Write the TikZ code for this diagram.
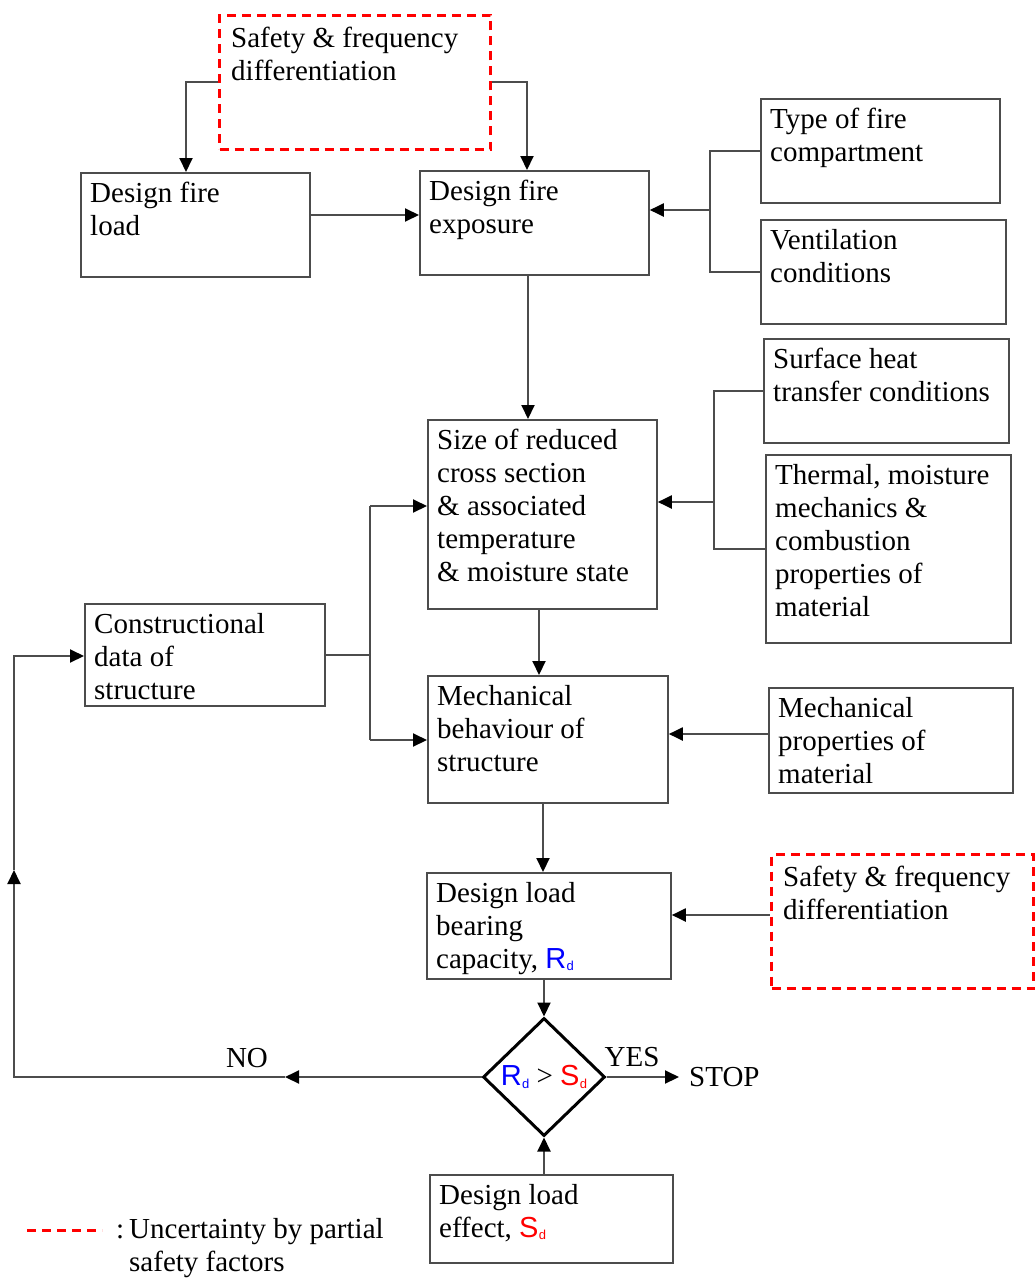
\documentclass[tikz,border=0pt]{standalone}
\usepackage{fontspec}
\setmainfont{Liberation Serif}
\newfontfamily\arialf{Liberation Sans}
\usetikzlibrary{arrows.meta,shapes.geometric,calc}
\definecolor{lnc}{gray}{0.3}
\newcommand{\myRd}{{\arialf\color{blue}R\kern0.3pt\raisebox{-2.5pt}{\fontsize{13}{13}\selectfont d}}}
\newcommand{\mySd}{{\arialf\color{red}S\kern0.3pt\raisebox{-2.5pt}{\fontsize{13}{13}\selectfont d}}}
\begin{document}
\begin{tikzpicture}[x=1pt,y=-1pt,
  box/.style={draw=lnc, line width=1.8pt, anchor=north west, inner sep=0pt},
  dbox/.style={draw=red, line width=3pt, dash pattern=on 9pt off 6pt, anchor=north west, inner sep=0pt},
  txt/.style={anchor=north west, inner xsep=10pt, inner ysep=7pt, align=left, font=\fontsize{29}{33}\selectfont},
  dtxt/.style={txt, inner xsep=13pt, inner ysep=10pt},
  lbl/.style={font=\fontsize{29}{33}\selectfont, inner sep=0pt},
  conn/.style={draw=lnc, line width=2pt},
  arr/.style={conn, -{Triangle[length=14pt,width=13pt,color=black]}},
]
\useasboundingbox (0,0) rectangle (1035,1279);

% boxes
\node[dbox, minimum width=271pt, minimum height=134pt] (sft) at (218,14) {};
\node[dtxt] (sftt) at (sft.north west) {\strut Safety \& frequency\\differentiation};
\node[box, minimum width=229pt, minimum height=104pt] (load) at (80,172) {};
\node[txt] (loadt) at (load.north west) {\strut Design fire\\load};
\node[box, minimum width=229pt, minimum height=104pt] (exp) at (419,170) {};
\node[txt] (expt) at (exp.north west) {\strut Design fire\\exposure};
\node[box, minimum width=239pt, minimum height=104pt] (type) at (760,98) {};
\node[txt] (typet) at (type.north west) {\strut Type of fire\\compartment};
\node[box, minimum width=245pt, minimum height=104pt] (vent) at (760,219) {};
\node[txt] (ventt) at (vent.north west) {\strut Ventilation\\conditions};
\node[box, minimum width=245pt, minimum height=104pt] (surf) at (763,338) {};
\node[txt] (surft) at (surf.north west) {\strut Surface heat\\transfer conditions};
\node[box, minimum width=245pt, minimum height=188pt] (therm) at (765,454) {};
\node[txt] (thermt) at (therm.north west) {\strut Thermal, moisture\\mechanics \&\\combustion\\properties of\\material};
\node[box, minimum width=229pt, minimum height=189pt] (size) at (427,419) {};
\node[txt] (sizet) at (size.north west) {\strut Size of reduced\\cross section\\\& associated\\temperature\\\& moisture state};
\node[box, minimum width=240pt, minimum height=102pt] (cons) at (84,603) {};
\node[txt] (const) at (cons.north west) {\strut Constructional\\data of\\structure};
\node[box, minimum width=240pt, minimum height=127pt] (mech) at (427,675) {};
\node[txt] (mecht) at (mech.north west) {\strut Mechanical\\behaviour of\\structure};
\node[box, minimum width=244pt, minimum height=105pt] (mprop) at (768,687) {};
\node[txt] (mpropt) at (mprop.north west) {\strut Mechanical\\properties of\\material};
\node[box, minimum width=244pt, minimum height=106pt] (bear) at (426,872) {};
\node[txt] (beart) at (bear.north west) {\strut Design load\\bearing\\capacity, \myRd};
\node[dbox, minimum width=262pt, minimum height=134pt] (sfb) at (770,853) {};
\node[dtxt] (sfbt) at (sfb.north west) {\strut Safety \& frequency\\differentiation};
\node[box, minimum width=243pt, minimum height=88pt] (effect) at (429,1174) {};
\node[txt] (effectt) at (effect.north west) {\strut Design load\\effect, \mySd};

% decision
\node[diamond, draw=black, line width=3pt, minimum width=122pt, minimum height=118pt, inner sep=0pt] (dec) at (544,1077) {};
\node[lbl] (dect) at (dec.center) {\myRd\ >\ \mySd};

% labels
\node[lbl, anchor=west, inner xsep=10pt] (stop) at (679,1077) {STOP};
\node[lbl] (yes) at (632,1057) {YES};
\node[lbl] (no) at (247,1058) {NO};

% connectors
\coordinate (xa) at (186,0);
\coordinate (xb) at (527,0);
\coordinate (ya) at (0,215);
\coordinate (bx1) at (710,210);
\coordinate (xc) at (528,0);
\coordinate (bx2) at (714,502);
\coordinate (xd) at (539,0);
\coordinate (bx3t) at (370,506);
\coordinate (bx3b) at (370,740);
\coordinate (ye) at (0,734);
\coordinate (xf) at (543,0);
\coordinate (yg) at (0,915);
\coordinate (noa) at (285,1077);
\coordinate (lc1) at (14,1077);
\coordinate (upa) at (14,870);
\coordinate (lc2) at (14,656);

\draw[arr] (sft.west) -| (load.north -| xa);
\draw[arr] (sft.east) -| (exp.north -| xb);
\draw[arr] (load.east |- ya) -- (exp.west |- ya);
\draw[conn] (type.west) -- (type.west -| bx1) -- (vent.west -| bx1) -- (vent.west);
\draw[arr] (bx1) -- (exp.east |- bx1);
\draw[arr] (exp.south -| xc) -- (size.north -| xc);
\draw[conn] (surf.west) -- (surf.west -| bx2) -- (therm.west -| bx2) -- (therm.west);
\draw[arr] (bx2) -- (size.east |- bx2);
\draw[arr] (size.south -| xd) -- (mech.north -| xd);
\draw[conn] (cons.east) -- (cons.east -| bx3t);
\draw[conn] (bx3t) -- (bx3b);
\draw[arr] (bx3t) -- (size.west |- bx3t);
\draw[arr] (bx3b) -- (mech.west |- bx3b);
\draw[arr] (mprop.west |- ye) -- (mech.east |- ye);
\draw[arr] (mech.south -| xf) -- (bear.north -| xf);
\draw[arr] (sfb.west |- yg) -- (bear.east |- yg);
\draw[arr] (bear.south -| dec.north) -- (dec.north);
\draw[arr] (dec.east) -- (stop.west);
\draw[arr] (effect.north -| dec.south) -- (dec.south);
\draw[arr] (dec.west) -- (noa);
\draw[arr] (noa) -- (lc1) -- (upa);
\draw[arr] (upa) -- (lc2) -- (cons.west |- lc2);

% legend
\coordinate (lg1) at (27,1230);
\coordinate (lg2) at (102,1230);
\draw[draw=red, line width=3pt, dash pattern=on 9pt off 6pt] (lg1) -- (lg2);
\node[txt, inner sep=0pt] (colon) at (116,1215) {\strut :};
\node[txt, inner sep=0pt] (leg) at (129,1215) {\strut Uncertainty by partial\\safety factors};
\end{tikzpicture}
\end{document}
